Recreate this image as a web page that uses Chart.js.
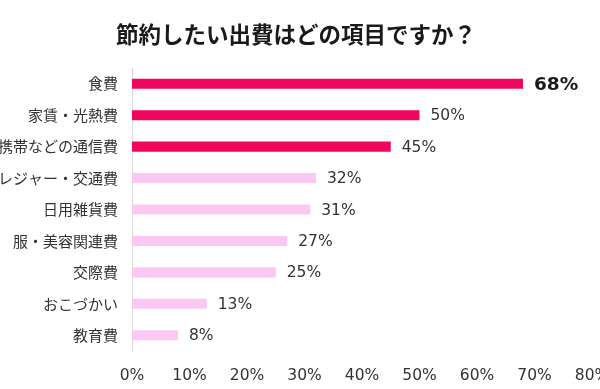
<!DOCTYPE html>
<html><head><meta charset="utf-8">
<script src="https://cdn.jsdelivr.net/npm/chart.js@4/dist/chart.umd.min.js"></script>
<style>html,body{margin:0;padding:0;background:#fff}#wrap{width:600px;height:389px}</style>
</head><body><div id="wrap"><canvas id="c" width="600" height="389"></canvas></div>
<script>
const categories = ["食費","家賃・光熱費","携帯などの通信費","レジャー・交通費","日用雑貨費","服・美容関連費","交際費","おこづかい","教育費"];
const values = [68,50,45,32,31,27,25,13,8];
const highlighted = [true,true,true,false,false,false,false,false,false];
const xTicks = [0,10,20,30,40,50,60,70,80];
const titleText = "節約したい出費はどの項目ですか？";

const JP = "'Noto Sans CJK JP', sans-serif";
const NUM = "'DejaVu Sans', 'Noto Sans CJK JP', sans-serif";
const DARK = "#F0065E", LIGHT = "#FAC8F3";

const valueLabels = {
  id: 'valueLabels',
  afterDatasetsDraw(chart) {
    const ctx = chart.ctx;
    const meta = chart.getDatasetMeta(0);
    ctx.save();
    ctx.textBaseline = 'middle';
    ctx.textAlign = 'left';
    meta.data.forEach((bar, i) => {
      const first = i === 0;
      ctx.font = (first ? 'bold 18.5px ' : '15.5px ') + NUM;
      ctx.fillStyle = first ? '#1a1a1a' : '#333';
      ctx.fillText(values[i] + '%', bar.x + 11, bar.y + 1);
    });
    ctx.restore();
  }
};

new Chart(document.getElementById('c'), {
  type: 'bar',
  data: {
    labels: categories,
    datasets: [{
      data: values,
      backgroundColor: highlighted.map(h => h ? DARK : LIGHT),
      barPercentage: 0.64,
      categoryPercentage: 0.5
    }]
  },
  options: {
    indexAxis: 'y',
    responsive: false,
    animation: false,
    devicePixelRatio: 1,
    layout: { padding: { left: 0, right: 8, top: 0, bottom: 3 } },
    plugins: {
      legend: { display: false },
      tooltip: { enabled: false },
      title: {
        display: true,
        text: titleText,
        color: '#1a1a1a',
        font: { family: JP, size: 22.5, weight: 'bold', lineHeight: 1.2 },
        padding: { top: 21, bottom: 20 }
      }
    },
    scales: {
      x: {
        min: 0, max: 80,
        afterBuildTicks(scale) { scale.ticks = xTicks.map(v => ({ value: v })); },
        afterFit(scale) { scale.paddingLeft = 0; scale.paddingRight = 0; scale.height = 35; },
        grid: { display: false, drawTicks: false },
        border: { display: false },
        ticks: {
          color: '#333',
          padding: 16,
          maxRotation: 0,
          font: { family: NUM, size: 15.5, lineHeight: 1.2 },
          callback: v => v + '%'
        }
      },
      y: {
        afterFit(scale) { scale.width = 132; },
        grid: { display: false, drawTicks: false },
        border: { display: true, color: '#d9d9d9', width: 1 },
        ticks: {
          color: '#333',
          padding: 14,
          font: { family: JP, size: 15 }
        }
      }
    }
  },
  plugins: [valueLabels]
});
</script></body></html>
